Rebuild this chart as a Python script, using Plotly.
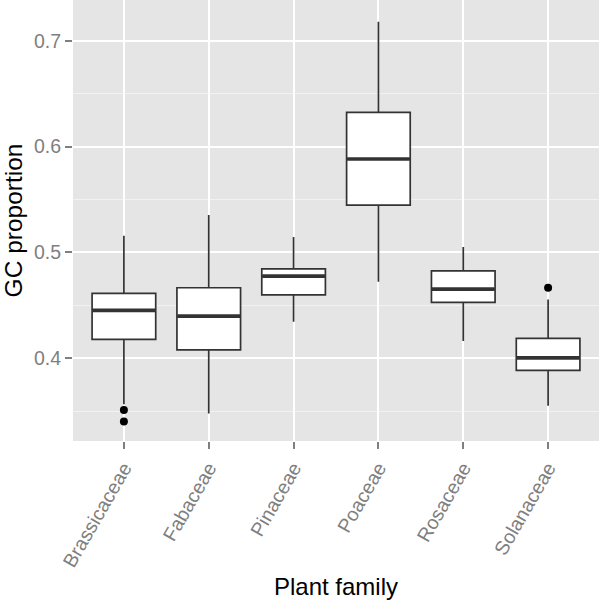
import plotly.graph_objects as go

families = ["Brassicaceae", "Fabaceae", "Pinaceae", "Poaceae", "Rosaceae", "Solanaceae"]
lower_whisker = [0.3566, 0.3478, 0.4344, 0.4722, 0.4162, 0.3550]
q1 = [0.4178, 0.4079, 0.4599, 0.5447, 0.4527, 0.3885]
median = [0.4452, 0.4398, 0.4776, 0.5882, 0.4653, 0.4003]
q3 = [0.4612, 0.4666, 0.4845, 0.6323, 0.4826, 0.4187]
upper_whisker = [0.5157, 0.5353, 0.5145, 0.7180, 0.5050, 0.4556]
outlier_family = ["Brassicaceae", "Brassicaceae", "Solanaceae"]
outlier_value = [0.3510, 0.3403, 0.4666]

y_ticks = [0.4, 0.5, 0.6, 0.7]
y_tick_labels = ["0.4", "0.5", "0.6", "0.7"]

LINE = "#333333"
GREY_TXT = "#7F7F7F"
FONT = "Liberation Sans, Arial, Helvetica, sans-serif"

W, H = 600, 602
ML, MR, MT, MB = 73, 1, 0, 161
X_RANGE = [-0.6, 5.6]
BOX_W = 0.75
# pixel width of a box, used to size the median bar marker (line-ew is 1.4*size long)
box_px = BOX_W * (W - ML - MR) / (X_RANGE[1] - X_RANGE[0])

fig = go.Figure()
fig.add_trace(go.Box(
    x=families, q1=q1, median=median, q3=q3,
    lowerfence=lower_whisker, upperfence=upper_whisker,
    boxpoints=False, whiskerwidth=0, width=BOX_W,
    fillcolor="white", line=dict(color=LINE, width=1.7),
    showlegend=False, hoverinfo="skip",
))
# thicker median bars (ggplot fatten)
fig.add_trace(go.Scatter(
    x=families, y=median, mode="markers",
    marker=dict(symbol="line-ew", size=(box_px - 1) / 1.4, color=LINE,
                line=dict(color=LINE, width=3.6)),
    showlegend=False, hoverinfo="skip",
))
fig.add_trace(go.Scatter(
    x=outlier_family, y=outlier_value, mode="markers",
    marker=dict(symbol="circle", size=8, color="black"),
    showlegend=False, hoverinfo="skip",
))

fig.update_layout(
    width=W, height=H,
    margin=dict(l=ML, r=MR, t=MT, b=MB),
    paper_bgcolor="white", plot_bgcolor="#E5E5E5",
    font=dict(family=FONT),
    showlegend=False,
)
fig.update_xaxes(
    type="category", categoryorder="array", categoryarray=families,
    range=X_RANGE, automargin=False,
    showgrid=True, gridcolor="white", gridwidth=2,
    zeroline=False, showline=False,
    ticks="outside", ticklen=7, tickwidth=1.5, tickcolor=GREY_TXT,
    tickangle=-60, tickfont=dict(size=19.5, color=GREY_TXT, family=FONT),
    title=dict(text="Plant family", font=dict(size=24, color="black", family=FONT), standoff=8),
)
fig.update_yaxes(
    range=[0.3218, 0.7385], automargin=False,
    tickvals=y_ticks, ticktext=y_tick_labels,
    showgrid=True, gridcolor="white", gridwidth=2,
    minor=dict(tickvals=[0.35, 0.45, 0.55, 0.65], showgrid=True, gridcolor="#F2F2F2", gridwidth=1, ticks=""),
    zeroline=False, showline=False,
    ticks="outside", ticklen=7, tickwidth=1.5, tickcolor=GREY_TXT,
    tickfont=dict(size=19.5, color=GREY_TXT, family=FONT),
    title=dict(text="GC proportion", font=dict(size=24.5, color="black", family=FONT), standoff=10),
)

fig.write_html("out.html", config={"displayModeBar": False},
               post_script="document.body.style.margin='0';")
